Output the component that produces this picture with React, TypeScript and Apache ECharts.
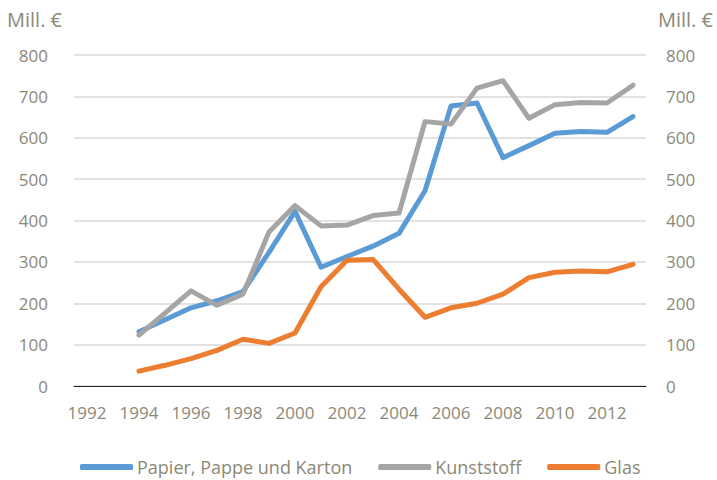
import React, { useEffect, useRef } from "react";
import * as echarts from "echarts";

const years = ["1992","1993","1994","1995","1996","1997","1998","1999","2000","2001","2002","2003","2004","2005","2006","2007","2008","2009","2010","2011","2012","2013"];
const papier = [null, null, 131, 160, 189, 206, 228, 323, 422, 287, 313, 338, 369, 472, 677, 684, 552, 581, 611, 615, 613, 651];
const kunststoff = [null, null, 123, 176, 230, 195, 222, 372, 436, 387, 389, 412, 418, 639, 633, 720, 738, 647, 680, 685, 684, 727];
const glas = [null, null, 36, 50, 66, 86, 113, 103, 128, 240, 304, 306, 234, 166, 189, 200, 222, 262, 275, 278, 276, 294];
const yTicks = { min: 0, max: 800, interval: 100 };
const unit = "Mill. €";

const textColor = "#8b8878";
const font = "Open Sans";

export default function App() {
  const ref = useRef<HTMLDivElement>(null);
  useEffect(() => {
    if (!ref.current) return;
    const chart = echarts.init(ref.current, null, { renderer: "svg" });
    const yAxisBase = {
      type: "value",
      min: yTicks.min,
      max: yTicks.max,
      interval: yTicks.interval,
      axisLine: { show: false },
      axisTick: { show: false },
      axisLabel: { color: textColor, fontSize: 17, fontFamily: font, margin: 26 },
    };
    chart.setOption({
      animation: false,
      grid: { left: 74, right: 71, top: 55, bottom: 94 },
      graphic: [
        { type: "text", left: 7, top: 9, style: { text: unit, fill: textColor, fontSize: 20, fontFamily: font } },
        { type: "text", right: 4, top: 9, style: { text: unit, fill: textColor, fontSize: 20, fontFamily: font } },
      ],
      legend: {
        left: 76,
        bottom: 0,
        padding: [4, 4],
        itemWidth: 53,
        itemHeight: 6,
        itemGap: 26,
        icon: "roundRect",
        textStyle: { color: textColor, fontSize: 18, fontFamily: font, padding: [0, 0, 0, -1] },
        data: ["Papier, Pappe und Karton", "Kunststoff", "Glas"],
      },
      xAxis: {
        type: "category",
        data: years,
        boundaryGap: true,
        axisLine: { lineStyle: { color: "#222", width: 1 } },
        axisTick: { show: false },
        axisLabel: { color: textColor, fontSize: 17, fontFamily: font, interval: 1, margin: 18 },
        splitLine: { show: false },
      },
      yAxis: [
        { ...yAxisBase, position: "left", splitLine: { lineStyle: { color: "#d9d9d9", width: 1.5 } } },
        { ...yAxisBase, position: "right", splitLine: { show: false }, axisLabel: { ...yAxisBase.axisLabel, margin: 20 } },
      ],
      series: [
        { name: "Papier, Pappe und Karton", type: "line", data: papier, showSymbol: false, symbol: "none", color: "#5b9bd5", lineStyle: { width: 5, color: "#5b9bd5", join: "round", cap: "round" } },
        { name: "Kunststoff", type: "line", data: kunststoff, showSymbol: false, symbol: "none", color: "#a5a5a5", lineStyle: { width: 5, color: "#a5a5a5", join: "round", cap: "round" } },
        { name: "Glas", type: "line", data: glas, showSymbol: false, symbol: "none", color: "#ed7d31", lineStyle: { width: 5, color: "#ed7d31", join: "round", cap: "round" } },
      ],
    });
    return () => chart.dispose();
  }, []);
  return <div ref={ref} style={{ width: 717, height: 480, position: "absolute", left: 0, top: 0 }} />;
}
